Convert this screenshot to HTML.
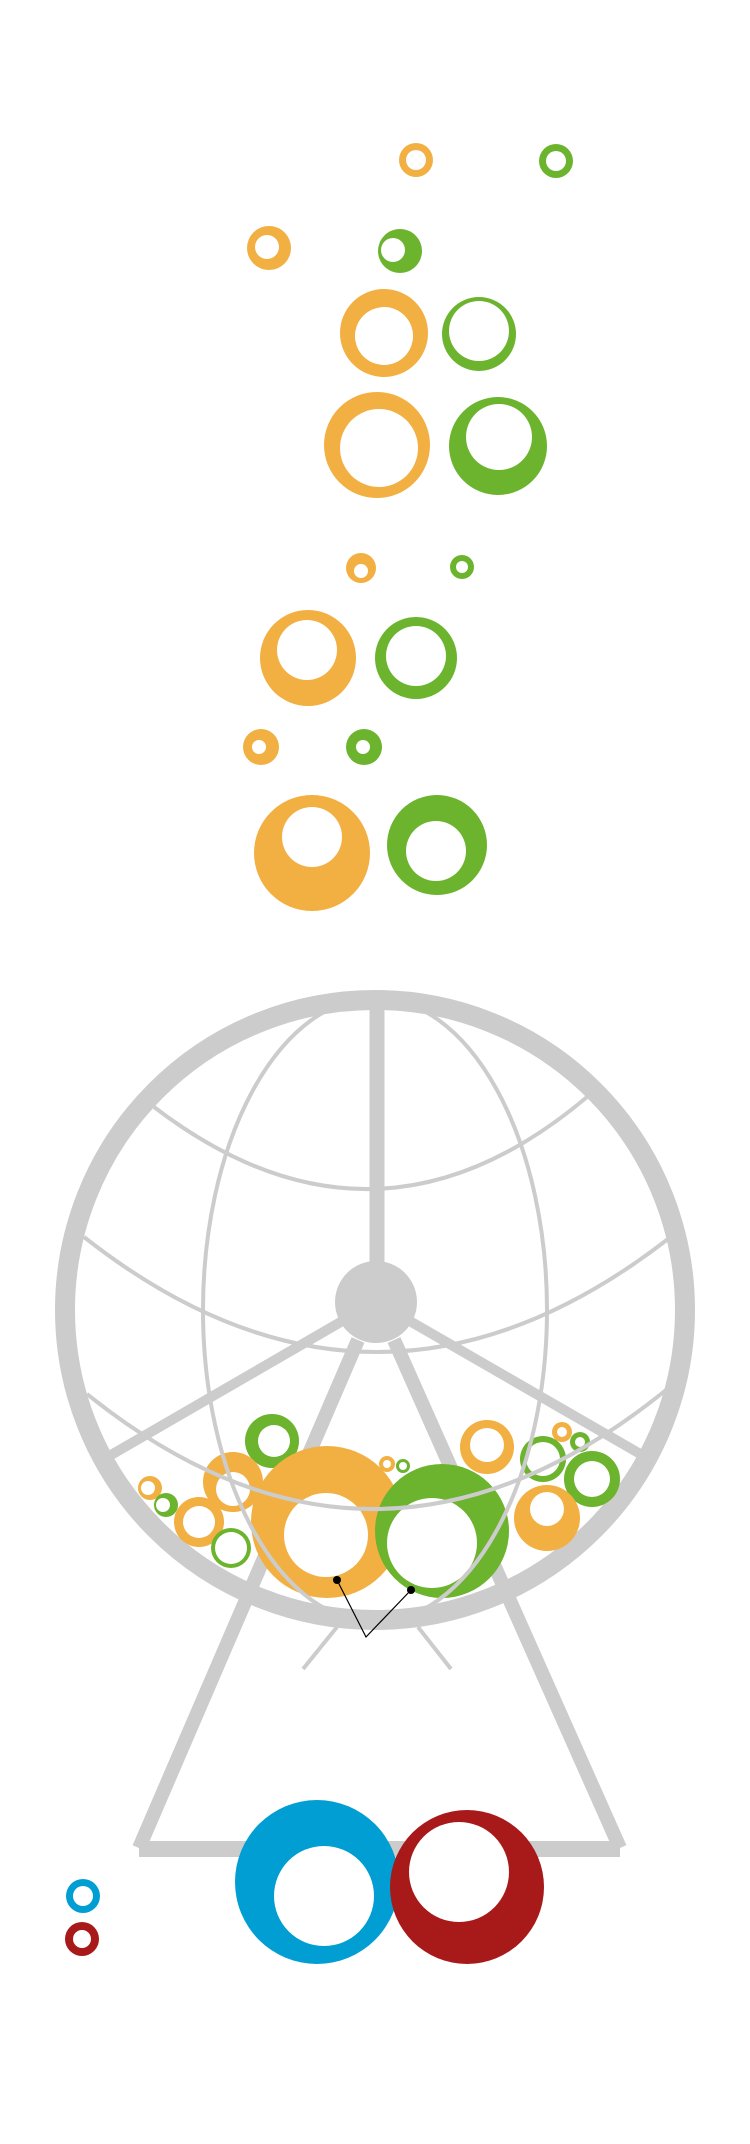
<!DOCTYPE html>
<html><head><meta charset="utf-8"><style>html,body{margin:0;padding:0;background:#fff}svg{display:block}</style></head>
<body>
<svg width="750" height="2144" viewBox="0 0 750 2144" xmlns="http://www.w3.org/2000/svg">
<defs>
<style>.o{fill:#F2AF42}.g{fill:#6CB32E}.w{fill:#fff}.b{fill:#009ED2}.r{fill:#A8191A}</style>
<clipPath id="rim"><circle cx="375" cy="1310" r="305"/></clipPath>
</defs>
<!-- top bubbles -->
<circle class="o" cx="416" cy="160" r="17"/><circle class="w" cx="416" cy="160" r="10"/>
<circle class="g" cx="556" cy="161" r="17"/><circle class="w" cx="556" cy="161" r="10"/>
<circle class="o" cx="269" cy="248" r="22"/><circle class="w" cx="267" cy="247" r="12"/>
<circle class="g" cx="400" cy="251" r="22"/><circle class="w" cx="393" cy="250" r="12"/>
<circle class="o" cx="384" cy="333" r="44"/><circle class="w" cx="384" cy="336" r="29"/>
<circle class="g" cx="479" cy="334" r="37"/><circle class="w" cx="479" cy="331" r="30"/>
<circle class="o" cx="377" cy="445" r="53"/><circle class="w" cx="379" cy="448" r="39"/>
<circle class="g" cx="498" cy="446" r="49"/><circle class="w" cx="499" cy="437" r="33"/>
<circle class="o" cx="361" cy="568" r="15"/><circle class="w" cx="361" cy="571" r="7"/>
<circle class="g" cx="462" cy="567" r="12"/><circle class="w" cx="462" cy="567" r="6"/>
<circle class="o" cx="308" cy="658" r="48"/><circle class="w" cx="307" cy="650" r="30"/>
<circle class="g" cx="416" cy="658" r="41"/><circle class="w" cx="416" cy="656" r="30"/>
<circle class="o" cx="261" cy="747" r="18"/><circle class="w" cx="259" cy="747" r="7"/>
<circle class="g" cx="364" cy="747" r="18"/><circle class="w" cx="363" cy="747" r="7"/>
<circle class="o" cx="312" cy="853" r="58"/><circle class="w" cx="312" cy="837" r="30"/>
<circle class="g" cx="437" cy="845" r="50"/><circle class="w" cx="436" cy="851" r="30"/>

<!-- wheel structure -->
<g stroke="#CCCCCC" fill="none">
  <path d="M139,1848 L358,1340 M620,1848 L394,1340" stroke-width="14"/>
  <path d="M139,1849 L620,1849" stroke-width="16"/>
  <path d="M303,1669 L337,1627 M451,1669 L418,1627" stroke-width="4"/>
  <circle cx="375" cy="1310" r="310" stroke-width="20"/>
  <path d="M377,1010 L377,1300" stroke-width="15"/>
  <path d="M111,1455 L370,1305 M642,1455 L382,1305" stroke-width="10"/>
</g>
<circle cx="376" cy="1302" r="41" fill="#CCCCCC"/>

<!-- inner balls -->
<circle class="g" cx="272" cy="1441" r="27"/><circle class="w" cx="274" cy="1441" r="16"/>
<circle class="o" cx="233" cy="1482" r="30"/><circle class="w" cx="233" cy="1489" r="17"/>
<circle class="o" cx="150" cy="1488" r="12"/><circle class="w" cx="148" cy="1488" r="7"/>
<circle class="g" cx="166" cy="1505" r="12"/><circle class="w" cx="163" cy="1505" r="7"/>
<circle class="o" cx="199" cy="1522" r="25"/><circle class="w" cx="199" cy="1522" r="16"/>
<circle class="g" cx="231" cy="1548" r="20"/><circle class="w" cx="231" cy="1548" r="16"/>
<circle class="o" cx="327" cy="1522" r="76"/><circle class="w" cx="326" cy="1535" r="42"/>
<circle class="g" cx="442" cy="1531" r="67"/><circle class="w" cx="432" cy="1543" r="45"/>
<circle class="o" cx="387" cy="1464" r="8"/><circle class="w" cx="387" cy="1464" r="4"/>
<circle class="g" cx="403" cy="1466" r="7"/><circle class="w" cx="403" cy="1466" r="4"/>
<circle class="o" cx="487" cy="1447" r="27"/><circle class="w" cx="487" cy="1445" r="17"/>
<circle class="g" cx="543" cy="1459" r="23"/><circle class="w" cx="543" cy="1459" r="17"/>
<circle class="o" cx="562" cy="1432" r="10"/><circle class="w" cx="562" cy="1432" r="5"/>
<circle class="g" cx="580" cy="1442" r="10"/><circle class="w" cx="580" cy="1442" r="5"/>
<circle class="g" cx="592" cy="1479" r="28"/><circle class="w" cx="592" cy="1479" r="18"/>
<circle class="o" cx="547" cy="1518" r="33"/><circle class="w" cx="547" cy="1509" r="17"/>

<!-- grid lines -->
<g stroke="#CCCCCC" fill="none" stroke-width="4">
  <ellipse cx="375" cy="1310" rx="172" ry="312" clip-path="url(#rim)"/>
  <path d="M154,1107 Q375,1276 587,1097"/>
  <path d="M84,1237 Q375,1466 668,1239"/>
  <path d="M87,1394 Q375,1626 666,1390"/>
</g>

<!-- pointer -->
<path d="M337,1580 L366,1637 L411,1590" stroke="#000" stroke-width="1.2" fill="none"/>
<circle cx="337" cy="1580" r="4" fill="#000"/>
<circle cx="411" cy="1590" r="4" fill="#000"/>

<!-- bottom -->
<circle class="b" cx="317" cy="1882" r="82"/><circle class="w" cx="324" cy="1896" r="50"/>
<circle class="r" cx="467" cy="1887" r="77"/><circle class="w" cx="459" cy="1872" r="50"/>
<circle class="b" cx="83" cy="1896" r="17"/><circle class="w" cx="83" cy="1896" r="10"/>
<circle class="r" cx="82" cy="1939" r="17"/><circle class="w" cx="82" cy="1939" r="9"/>
</svg>
</body></html>
